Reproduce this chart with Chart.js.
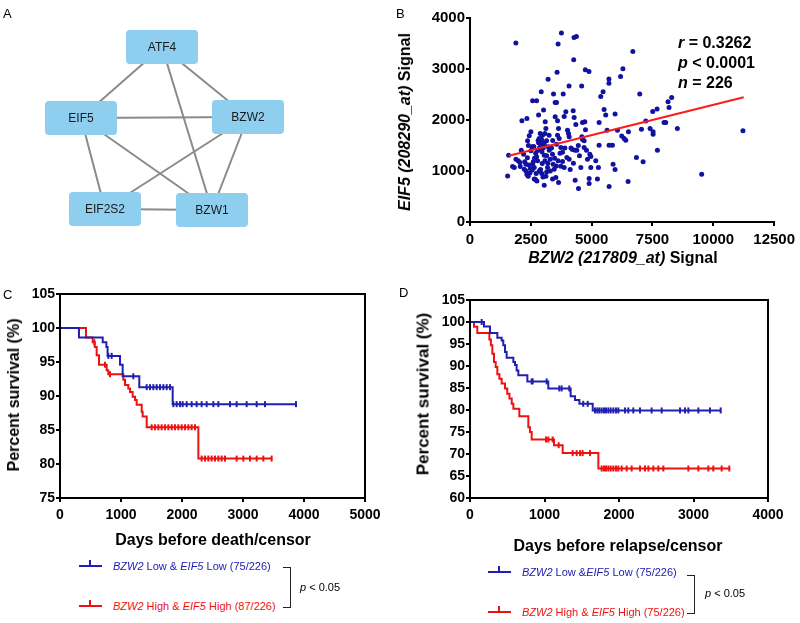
<!DOCTYPE html>
<html>
<head>
<meta charset="utf-8">
<script src="https://cdn.jsdelivr.net/npm/chart.js@4.4.1/dist/chart.umd.min.js"></script>
<style>
body { margin:0; background:#fff; width:800px; height:623px; position:relative; overflow:hidden; font-family:"Liberation Sans", Arial, sans-serif; }
canvas { position:absolute; }
.t { position:absolute; white-space:nowrap; line-height:1; color:#000; }
.lab { font-size:13px; }
.ttl { font-weight:bold; transform:translate(-50%,-50%); }
.rot { transform:translate(-50%,-50%) rotate(-90deg); }
.stat { font-weight:bold; font-size:16px; }
.leg { font-size:11px; transform:translateY(-50%); }
.sym { position:absolute; width:23px; height:2px; }
.sym i { position:absolute; left:10px; top:-5px; width:2px; height:6px; background:inherit; }
.br { position:absolute; border:1.5px solid #222; border-left:none; width:7px; }
</style>
</head>
<body>
<canvas id="netA" width="300" height="260" style="left:0;top:0"></canvas>
<canvas id="scatB" width="410" height="290" style="left:390px;top:0"></canvas>
<canvas id="kmC" width="400" height="280" style="left:0;top:280px"></canvas>
<canvas id="kmD" width="400" height="280" style="left:400px;top:280px"></canvas>

<div class="t lab" style="left:3px;top:7px">A</div>
<div class="t lab" style="left:396px;top:7px">B</div>
<div class="t lab" style="left:3px;top:288px">C</div>
<div class="t lab" style="left:399px;top:286px">D</div>

<div class="t ttl rot" style="left:405px;top:122px;font-size:16px"><i>EIF5 (208290_at)</i> Signal</div>
<div class="t ttl" style="left:623px;top:258px;font-size:16px"><i>BZW2 (217809_at)</i> Signal</div>
<div class="t stat" style="left:678px;top:35px"><i>r</i> = 0.3262</div>
<div class="t stat" style="left:678px;top:55px"><i>p</i> &lt; 0.0001</div>
<div class="t stat" style="left:678px;top:75px"><i>n</i> = 226</div>

<div class="t ttl rot" style="left:14px;top:395px;font-size:16px">Percent survival (%)</div>
<div class="t ttl" style="left:213px;top:540px;font-size:16px">Days before death/censor</div>
<div class="t ttl rot" style="left:423px;top:394px;font-size:17px">Percent survival (%)</div>
<div class="t ttl" style="left:618px;top:546px;font-size:16px">Days before relapse/censor</div>

<div class="sym" style="left:79px;top:565px;background:#2020b0"><i></i></div>
<div class="t leg" style="left:113px;top:566px;color:#2020b0"><i>BZW2</i> Low &amp; <i>EIF5</i> Low (75/226)</div>
<div class="sym" style="left:79px;top:605px;background:#ee1111"><i></i></div>
<div class="t leg" style="left:113px;top:606px;color:#ee1111"><i>BZW2</i> High &amp; <i>EIF5</i> High (87/226)</div>
<div class="br" style="left:283px;top:567px;height:39px"></div>
<div class="t leg" style="left:300px;top:587px"><i>p</i> &lt; 0.05</div>

<div class="sym" style="left:488px;top:571px;background:#2020b0"><i></i></div>
<div class="t leg" style="left:522px;top:572px;color:#2020b0"><i>BZW2</i> Low &amp;<i>EIF5</i> Low (75/226)</div>
<div class="sym" style="left:488px;top:611px;background:#ee1111"><i></i></div>
<div class="t leg" style="left:522px;top:612px;color:#ee1111"><i>BZW2</i> High &amp; <i>EIF5</i> High (75/226)</div>
<div class="br" style="left:687px;top:575px;height:37px"></div>
<div class="t leg" style="left:705px;top:593px"><i>p</i> &lt; 0.05</div>

<script>
// ---- A: interaction network ----
const nodeNames = ['ATF4', 'EIF5', 'BZW2', 'EIF2S2', 'BZW1'];
const nodeX = [162, 81, 248, 105, 212];
const nodeY = [47, 118, 117, 209, 210];
const edges = [[0, 1], [0, 2], [0, 4], [1, 2], [1, 3], [1, 4], [2, 3], [2, 4], [3, 4]];

// ---- B: BZW2 vs EIF5 signal ----
const bzw2 = [1546, 1587, 1751, 1819, 1888, 1984, 2052, 2066, 2134, 2339, 2107, 2203, 2230, 2298, 2366, 2435, 2503, 2339, 2394, 2462,
  2503, 2544, 2572, 2736, 2572, 2640, 2681, 2750, 2640, 2736, 2777, 2818, 2818, 2845, 2887, 2928, 3023, 3091, 2955, 3050,
  2969, 3050, 3119, 3187, 3119, 3078, 3146, 3050, 3214, 3255, 3296, 3392, 3419, 3460, 3433, 3501, 3556, 3501, 3597, 3638,
  3597, 3666, 3556, 3734, 3802, 3529, 3638, 3392, 3734, 3802, 3871, 3830, 3871, 3939, 4008, 4048, 4076, 3980, 4076, 4117,
  4240, 4281, 4349, 4213, 4322, 4390, 4322, 4459, 4555, 4596, 4623, 4691, 4623, 4719, 4746, 4691, 4787, 4828, 4924, 4965,
  4965, 4896, 4896, 5169, 5237, 5278, 5306, 5306, 5374, 5470, 5511, 5579, 5634, 5716, 5853, 5716, 5880, 5962, 5962, 6060,
  6238, 6334, 6402, 6512, 6498, 6840, 6977, 7114, 7045, 7223, 7401, 7510, 7688, 7524, 7524, 7702, 7975, 8043, 8139, 8180,
  8289, 8522, 9521, 11218, 1885, 3757, 3620, 4276, 4372, 4262, 3579, 4740, 4890, 3210, 4071, 4590, 6693, 6284, 6188, 5710,
  5710, 2800, 2870, 2900, 2940, 2990, 3010, 2850, 2780, 2700, 2650, 2600, 2560, 2480, 2420, 2360, 2300, 2250, 2900, 2950,
  3000, 3150, 3200, 3300, 3350, 3150, 3080, 2850, 2720, 3400, 3480, 3620, 3700, 3900, 4150, 4250, 4500, 4450, 3550, 2980,
  2620, 3250, 2400];
const eif5 = [904, 1310, 1087, 1067, 1231, 1199, 1166, 1087, 1985, 2031, 1408, 1330, 1035, 1133, 1592, 1690, 1768, 931, 898, 963,
  1395, 1474, 2378, 2378, 1133, 1067, 838, 806, 845, 1277, 1199, 2096, 1553, 1638, 1736, 2554, 2194, 1965, 1376, 1310,
  1146, 721, 898, 1067, 1834, 1736, 1592, 1526, 1474, 1408, 1231, 1330, 1133, 1035, 2509, 2345, 2345, 2063, 1985, 1834,
  1703, 1638, 1526, 1461, 1369, 871, 773, 845, 1094, 1186, 1067, 2509, 2070, 2162, 1801, 1736, 1670, 1264, 1231, 1028,
  2181, 2050, 1913, 1421, 1408, 1408, 819, 655, 1067, 1670, 1618, 1592, 1952, 1965, 1808, 1461, 1408, 1231, 1330, 1284,
  1067, 852, 753, 1199, 845, 1067, 1952, 1507, 2463, 2554, 2207, 2096, 1801, 1507, 1507, 694, 1133, 1028, 2116, 1801,
  1684, 1638, 1605, 1768, 793, 1264, 2509, 1179, 1821, 1979, 1834, 2168, 2214, 1769, 1723, 1408, 1952, 1952, 2358, 2247,
  2443, 1834, 937, 1788, 3508, 3705, 3488, 3619, 3639, 3180, 2938, 2983, 2951, 2800, 2669, 2669, 3344, 3003, 2852, 2806,
  2721, 1600, 1580, 1500, 1620, 1560, 1450, 1450, 1400, 1350, 1250, 1180, 1020, 1050, 1120, 1260, 1000, 1180, 1030, 950,
  880, 980, 1150, 1000, 1450, 1300, 1200, 1000, 950, 1600, 1250, 1200, 1350, 1450, 1450, 1150, 1300, 1500, 1100, 1700,
  1480, 1700, 1500];
const fitX = [1600, 11250];
const fitY = [1300, 2445];

// ---- C: overall survival ----
const cLowT = [0, 311, 700, 760, 780, 984, 1027, 1300, 1847, 3869];
const cLowS = [100, 98.6, 97.9, 97.2, 95.9, 94.6, 92.9, 91.3, 88.8, 88.8];
const cLowCens = [792, 847, 1202, 1421, 1475, 1530, 1585, 1639, 1694, 1749, 1803, 1858, 1913, 1967, 2011, 2077, 2158, 2240,
  2322, 2404, 2514, 2596, 2787, 2896, 3060, 3224, 3361, 3869];
const cHighT = [0, 426, 536, 570, 601, 639, 765, 792, 1038, 1066, 1120, 1148, 1191, 1230, 1257, 1339, 1355, 1421, 2268, 3470];
const cHighS = [100, 98.6, 97.9, 97.2, 96.0, 94.6, 93.8, 93.2, 92.4, 91.6, 91.1, 90.6, 89.9, 89.4, 88.7, 87.7, 87.0, 85.4, 80.8, 80.8];
const cHighCens = [563, 738, 820, 1503, 1558, 1612, 1667, 1721, 1776, 1831, 1885, 1940, 1995, 2049, 2104, 2158, 2213, 2322,
  2377, 2432, 2486, 2541, 2596, 2650, 2705, 2896, 3005, 3115, 3224, 3333, 3470];

// ---- D: relapse-free survival ----
const dLowT = [0, 188, 268, 367, 425, 447, 470, 492, 582, 604, 626, 649, 770, 1051, 1351, 1409, 1468, 1647, 3365];
const dLowS = [100, 99.0, 97.5, 96.4, 95.8, 94.7, 93.2, 91.9, 90.9, 90.2, 89.0, 87.9, 86.5, 84.9, 83.1, 82.3, 81.4, 79.9, 79.9];
const dLowCens = [157, 828, 841, 1029, 1199, 1230, 1333, 1520, 1580, 1678, 1709, 1736, 1767, 1799, 1826, 1857, 1888, 1924,
  1960, 1991, 2081, 2125, 2192, 2282, 2438, 2573, 2819, 2886, 2931, 3065, 3221, 3365];
const dHighT = [0, 54, 98, 260, 280, 300, 322, 345, 367, 395, 425, 470, 500, 530, 560, 582, 662, 783, 805, 828, 1128, 1244, 1723, 3481];
const dHighS = [100, 98.9, 97.5, 96.0, 94.7, 92.8, 90.9, 89.8, 88.1, 87.1, 86.0, 84.9, 83.7, 82.6, 81.4, 80.3, 78.6, 76.1, 75.0, 73.3, 72.0, 70.2, 66.7, 66.7];
const dHighCens = [1020, 1051, 1110, 1190, 1378, 1432, 1477, 1512, 1611, 1767, 1799, 1826, 1857, 1888, 1924, 1960, 1991, 2036,
  2103, 2170, 2282, 2349, 2394, 2461, 2528, 2595, 2931, 3065, 3199, 3266, 3378, 3481];

const BLUE = '#2020b0';
const RED = '#ee1111';

Chart.defaults.font.family = '"Liberation Sans", Arial, sans-serif';
Chart.defaults.color = '#000';
Chart.defaults.animation = false;

function axis(min, max, step, fit, tickSize, pad) {
  return {
    type: 'linear', min: min, max: max,
    border: { color: '#000', width: 2 },
    grid: { drawOnChartArea: false, drawTicks: true, tickLength: 4, color: '#000', lineWidth: 2 },
    ticks: { stepSize: step, autoSkip: false, maxRotation: 0, padding: pad, color: '#000',
      font: { size: tickSize, weight: 'bold' }, callback: v => String(v) },
    afterFit: fit
  };
}

const frame = {
  id: 'frame',
  afterDraw(chart) {
    const a = chart.chartArea, c = chart.ctx;
    c.save();
    c.strokeStyle = '#000';
    c.lineWidth = 2;
    c.strokeRect(a.left, a.top, a.right - a.left, a.bottom - a.top);
    c.restore();
  }
};

// network boxes
const boxes = {
  id: 'boxes',
  afterDatasetsDraw(chart) {
    const c = chart.ctx, xs = chart.scales.x, ys = chart.scales.y;
    c.save();
    nodeNames.forEach((n, i) => {
      const px = xs.getPixelForValue(nodeX[i]), py = ys.getPixelForValue(nodeY[i]);
      c.fillStyle = '#8ecff0';
      c.beginPath();
      c.roundRect(px - 36, py - 17, 72, 34, 4);
      c.fill();
      c.fillStyle = '#1a1a1a';
      c.font = '12px "Liberation Sans", Arial, sans-serif';
      c.textAlign = 'center';
      c.textBaseline = 'middle';
      c.fillText(n, px, py + 1);
    });
    c.restore();
  }
};

const edgeSets = edges.map(e => ({
  type: 'line',
  data: [{ x: nodeX[e[0]], y: nodeY[e[0]] }, { x: nodeX[e[1]], y: nodeY[e[1]] }],
  borderColor: '#8a8a8a', borderWidth: 2, pointRadius: 0
}));

new Chart(document.getElementById('netA'), {
  type: 'scatter',
  data: { datasets: edgeSets },
  options: {
    responsive: false, devicePixelRatio: 1,
    layout: { padding: 0 },
    plugins: { legend: { display: false }, tooltip: { enabled: false } },
    scales: {
      x: { type: 'linear', min: 0, max: 300, display: false },
      y: { type: 'linear', min: 0, max: 260, reverse: true, display: false }
    }
  },
  plugins: [boxes]
});

new Chart(document.getElementById('scatB'), {
  type: 'scatter',
  data: {
    datasets: [
      { type: 'line', data: fitX.map((x, i) => ({ x: x, y: fitY[i] })), borderColor: '#ff1a1a', borderWidth: 2, pointRadius: 0 },
      { data: bzw2.map((x, i) => ({ x: x, y: eif5[i] })), pointRadius: 2.5, backgroundColor: '#1212a0', borderWidth: 0 }
    ]
  },
  options: {
    responsive: false, devicePixelRatio: 1,
    layout: { padding: { top: 18, right: 25, left: 0, bottom: 0 } },
    plugins: { legend: { display: false }, tooltip: { enabled: false } },
    scales: {
      x: axis(0, 12500, 2500, s => { s.height = 68; }, 15, 5),
      y: axis(0, 4000, 1000, s => { s.width = 80; }, 15, 1)
    }
  }
});

function levelAt(ts, ss, t) {
  let v = ss[0];
  for (let i = 0; i < ts.length; i++) if (ts[i] <= t) v = ss[i];
  return v;
}

function kmSets(curves) {
  const sets = [];
  curves.forEach(k => {
    sets.push({
      type: 'line', stepped: true, data: k.t.map((x, i) => ({ x: x, y: k.s[i] })),
      borderColor: k.color, borderWidth: 2, pointRadius: 0
    });
    sets.push({
      type: 'scatter', data: k.cens.map(x => ({ x: x, y: levelAt(k.t, k.s, x) })),
      pointStyle: 'line', rotation: 90, radius: 3, borderColor: k.color, borderWidth: 2
    });
  });
  return sets;
}

function kmChart(id, curves, xMax, yMin, leftW, padTop, padRight) {
  new Chart(document.getElementById(id), {
    type: 'scatter',
    data: { datasets: kmSets(curves) },
    options: {
      responsive: false, devicePixelRatio: 1,
      layout: { padding: { top: padTop, right: padRight, left: 0, bottom: 0 } },
      plugins: { legend: { display: false }, tooltip: { enabled: false } },
      scales: {
        x: axis(0, xMax, 1000, s => { s.height = 62; }, 14, 5),
        y: axis(yMin, 105, 5, s => { s.width = leftW; }, 14, 1)
      }
    },
    plugins: [frame]
  });
}

kmChart('kmC', [
  { t: cLowT, s: cLowS, cens: cLowCens, color: BLUE },
  { t: cHighT, s: cHighS, cens: cHighCens, color: RED }
], 5000, 75, 60, 14, 35);

kmChart('kmD', [
  { t: dLowT, s: dLowS, cens: dLowCens, color: BLUE },
  { t: dHighT, s: dHighS, cens: dHighCens, color: RED }
], 4000, 60, 70, 20, 32);
</script>
</body>
</html>
